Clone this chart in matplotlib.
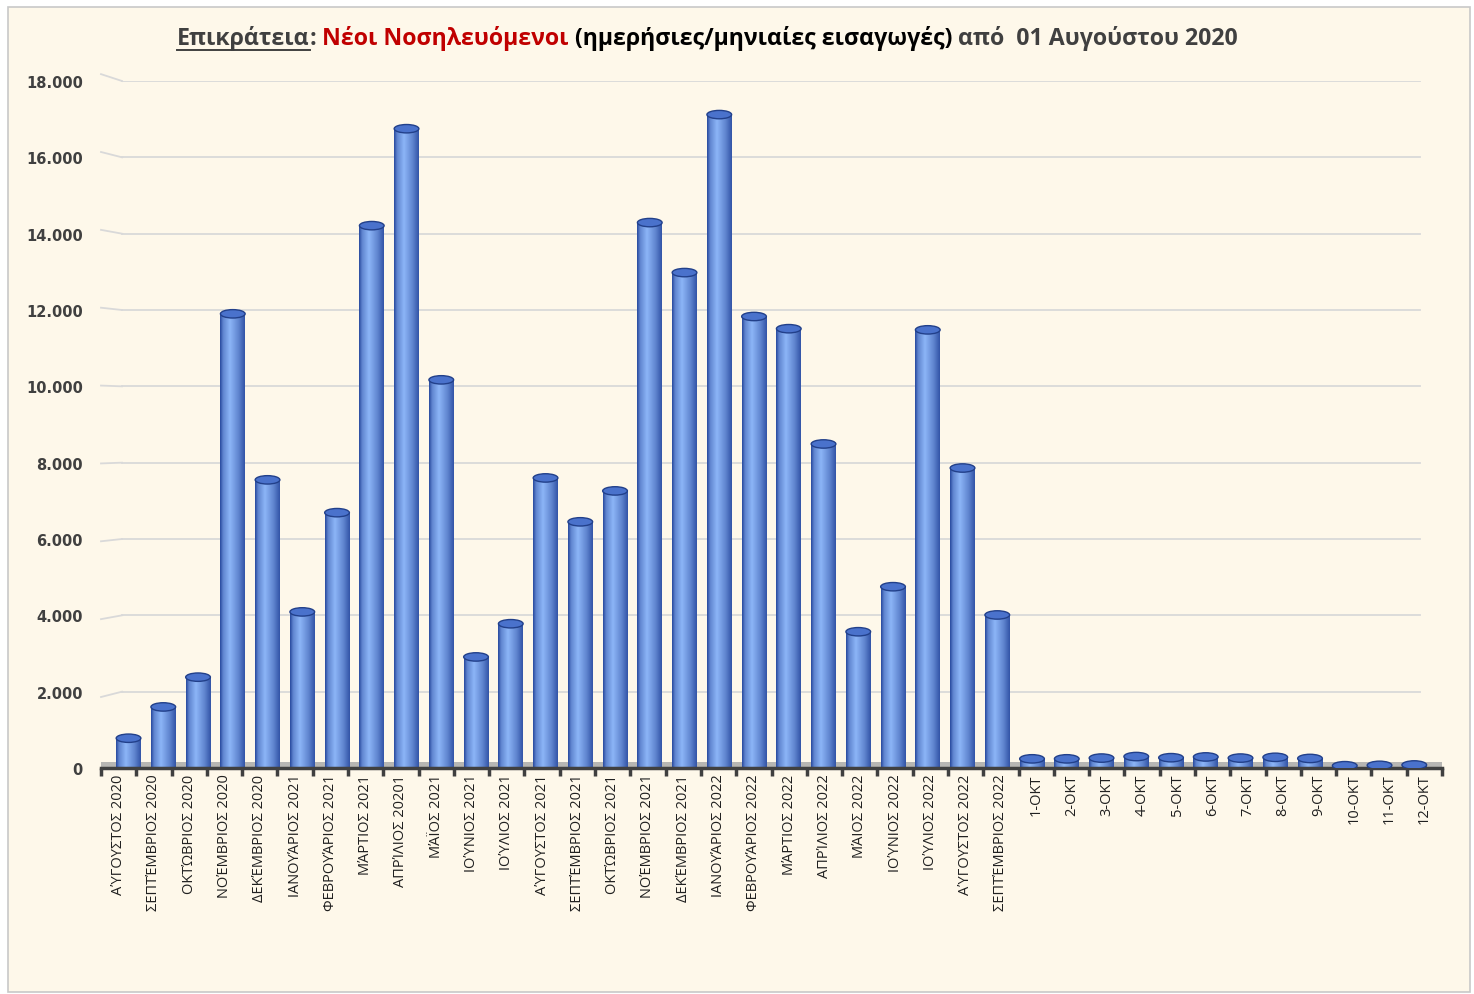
import numpy as np
import matplotlib
matplotlib.use('Agg')
import matplotlib.pyplot as plt
from matplotlib.patches import Rectangle, Ellipse

plt.rcParams['font.family'] = ['Open Sans', 'DejaVu Sans']

categories = [
    'ΑΎΓΟΥΣΤΟΣ 2020', 'ΣΕΠΤΈΜΒΡΙΟΣ 2020', 'ΟΚΤΏΒΡΙΟΣ 2020', 'ΝΟΈΜΒΡΙΟΣ 2020',
    'ΔΕΚΈΜΒΡΙΟΣ 2020', 'ΙΑΝΟΥΆΡΙΟΣ 2021', 'ΦΕΒΡΟΥΆΡΙΟΣ 2021', 'ΜΆΡΤΙΟΣ 2021',
    'ΑΠΡΊΛΙΟΣ 20201', 'ΜΆΪΟΣ 2021', 'ΙΟΎΝΙΟΣ 2021', 'ΙΟΎΛΙΟΣ 2021',
    'ΑΎΓΟΥΣΤΟΣ 2021', 'ΣΕΠΤΈΜΒΡΙΟΣ 2021', 'ΟΚΤΏΒΡΙΟΣ 2021', 'ΝΟΈΜΒΡΙΟΣ 2021',
    'ΔΕΚΈΜΒΡΙΟΣ 2021', 'ΙΑΝΟΥΆΡΙΟΣ 2022', 'ΦΕΒΡΟΥΆΡΙΟΣ 2022', 'ΜΆΡΤΙΟΣ 2022',
    'ΑΠΡΊΛΙΟΣ 2022', 'ΜΆΙΟΣ 2022', 'ΙΟΎΝΙΟΣ 2022', 'ΙΟΎΛΙΟΣ 2022',
    'ΑΎΓΟΥΣΤΟΣ 2022', 'ΣΕΠΤΈΜΒΡΙΟΣ 2022',
    '1-OKT', '2-OKT', '3-OKT', '4-OKT', '5-OKT', '6-OKT',
    '7-OKT', '8-OKT', '9-OKT', '10-OKT', '11-OKT', '12-OKT',
]
monthly = [780, 1600, 2380, 11900, 7550, 4090, 6690, 14210, 16750, 10170, 2910, 3780,
           7600, 6450, 7260, 14290, 12980, 17120, 11830, 11510, 8490, 3570, 4750, 11480,
           7860, 4010]
daily_oct = [240, 240, 260, 300, 270, 290, 260, 280, 250, 60, 70, 80]
values = monthly + daily_oct

yticks = np.arange(0, 18001, 2000)
ytick_labels = ['0' if v == 0 else f'{v // 1000}.000' for v in yticks]

cream = '#FEF8EA'
fig = plt.figure(figsize=(14.74, 9.95), dpi=100, facecolor='white')
fig.patches.append(Rectangle((8 / 1474, 2 / 995), 1462 / 1474, 985 / 995,
                             transform=fig.transFigure, facecolor=cream,
                             edgecolor='#C8C8C8', linewidth=1.2, zorder=-10))

ax = fig.add_axes([101 / 1474, 1 - 769 / 995, 1341 / 1474, (769 - 82) / 995])
ax.set_facecolor('none')
n = len(values)
x = np.arange(n)
w = 0.7
ax.set_xlim(-0.5, n - 0.5)
ax.set_ylim(0, 18000)

# back-wall gridlines with short slanted pieces toward the labels
wall_x0 = -0.5 + 21 / 35.3
wall_x1 = n - 0.5 - 22 / 35.3
for v in yticks[1:]:
    ax.plot([wall_x0, wall_x1], [v, v], color='#D9D9D9', linewidth=1.3, zorder=0)
    ax.plot([-0.5, wall_x0], [v + (v - 9000) * 0.02, v], color='#D9D9D9',
            linewidth=1.3, zorder=0, clip_on=False)
ax.axhspan(0, 160, color='#A6A6A6', alpha=0.8, zorder=0.5, linewidth=0)

# cylinder-like bars: gradient body clipped to bar + elliptic cap
grad = np.linspace(0, 1, 64)
shade = np.interp(grad, [0, 0.12, 0.4, 0.75, 1], [0.0, 0.55, 1.0, 0.55, 0.1])
dark = np.array([0.16, 0.29, 0.62])
light = np.array([0.55, 0.71, 0.97])
img = dark[None, :] + shade[:, None] * (light - dark)[None, :]
img = img[None, :, :]
cap_h = 220
# bars sit on the 3D floor, a little off the category centres (perspective)
xb = x + 0.28 - 0.0153 * x
bars = ax.bar(xb, values, width=w, color='#4A78D8', edgecolor='none', zorder=2)
for b, xi, v in zip(bars, xb, values):
    im = ax.imshow(img, extent=(xi - w / 2, xi + w / 2, 0, v), aspect='auto',
                   interpolation='bilinear', zorder=2.5)
    im.set_clip_path(b)
    ax.add_patch(Ellipse((xi, 0), w, cap_h, facecolor='#3C64C0', edgecolor='none', zorder=2.2))
    ax.add_patch(Ellipse((xi, v), w, cap_h, facecolor='#4A72CC',
                         edgecolor='#22408A', linewidth=1.0, zorder=3))
ax.set_xlim(-0.5, n - 0.5)
ax.set_ylim(0, 18000)

for s in ['top', 'right', 'left']:
    ax.spines[s].set_visible(False)
ax.spines['bottom'].set_color('#404040')
ax.spines['bottom'].set_linewidth(2.5)

ax.set_yticks(yticks)
ax.set_yticklabels(ytick_labels, fontsize=10.5, fontweight='bold', color='#404040',
                   family=['DejaVu Sans'])
ax.tick_params(axis='y', length=0, pad=13)

ax.set_xticks(x)
ax.set_xticklabels(categories, rotation=90, fontsize=10.5, color='#202020')
ax.set_xticks(np.arange(n + 1) - 0.5, minor=True)
ax.tick_params(axis='x', which='major', length=0, pad=4)
ax.tick_params(axis='x', which='minor', length=6, width=2.5, color='#404040', direction='out')

# title made of differently styled pieces
parts = [
    ('Επικράτεια', '#404040'),
    (':', '#404040'),
    (' Νέοι Νοσηλευόμενοι', '#C00000'),
    (' (ημερήσιες/μηνιαίες εισαγωγές)', '#000000'),
    (' από  01 Αυγούστου 2020', '#404040'),
]
fig.canvas.draw()
renderer = fig.canvas.get_renderer()
xpos = 177 / 1474
ypos = 1 - 45 / 995
first_ext = None
for txt, col in parts:
    t = fig.text(xpos, ypos, txt, color=col, fontsize=16.7, fontweight='bold',
                 ha='left', va='baseline')
    ext = t.get_window_extent(renderer)
    if first_ext is None:
        first_ext = ext
    xpos = ext.x1 / fig.bbox.width
fig.add_artist(plt.Line2D([first_ext.x0 / fig.bbox.width, first_ext.x1 / fig.bbox.width],
                          [ypos - 6 / 995, ypos - 6 / 995], transform=fig.transFigure,
                          color='#404040', linewidth=1.4))

fig.savefig('out.png', dpi=100, facecolor='white')
